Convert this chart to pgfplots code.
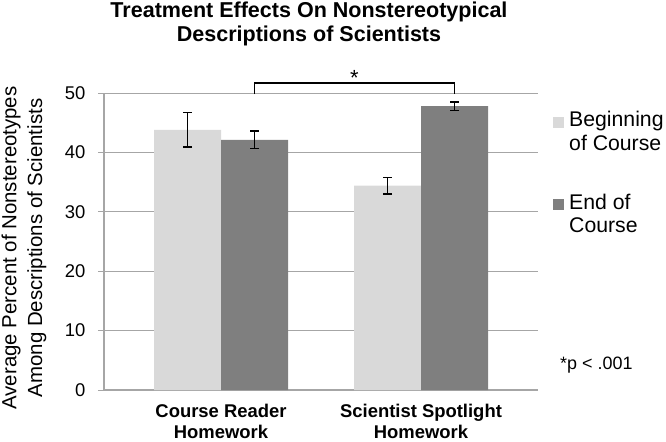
\documentclass[border=0pt]{standalone}
\usepackage{pgfplots}
\pgfplotsset{compat=1.18}
\usepackage{fontspec}
\setmainfont{Liberation Sans}
\definecolor{lightbar}{HTML}{D9D9D9}
\definecolor{darkbar}{HTML}{7F7F7F}
\definecolor{gridgray}{HTML}{A6A6A6}
\pgfplotsset{sqlegend/.style={legend image code/.code={\fill[##1] (0bp,4bp) rectangle (11bp,15bp);}}}
\begin{document}
\begin{tikzpicture}
\path[use as bounding box] (0bp,0bp) rectangle (666bp,-442bp);
\node[align=center, anchor=north, inner sep=0pt, font=\fontsize{21.6}{24}\selectfont\bfseries] at (309bp,-2bp) {Treatment Effects On Nonstereotypical\\Descriptions of Scientists};
\node[rotate=90, align=center, inner sep=0pt, font=\fontsize{20.5}{26}\selectfont] at (24bp,-248bp) {Average Percent of Nonstereotypes\\Among Descriptions of Scientists};
\node[anchor=base west, inner sep=0pt, font=\fontsize{18}{20}\selectfont] at (560bp,-369bp) {*p < .001};
\begin{axis}[
  at={(104bp,-390bp)}, anchor=south west,
  width=434bp, height=297bp, scale only axis,
  xmin=-0.585, xmax=1.585, ymin=0, ymax=50,
  clip=false,
  axis x line*=bottom, axis y line*=left,
  axis line style={gridgray, line width=1.3bp},
  ytick={0,10,20,30,40,50},
  ymajorgrids, grid style={gridgray, line width=1bp},
  tick align=outside, major tick length=6bp,
  ytick style={gridgray, line width=1bp},
  xtick={0,1}, xtick style={draw=none},
  xticklabels={{Course Reader\\Homework},{Scientist Spotlight\\Homework}},
  xticklabel style={align=center, font=\bfseries\fontsize{18.5}{21}\selectfont, yshift=-5bp},
  yticklabel style={font=\fontsize{18.5}{20}\selectfont, xshift=-9bp},
  /pgf/number format/assume math mode=true,
  legend style={draw=none, fill=none, inner sep=0pt, at={(rel axis cs:1.0346,0.938)}, anchor=north west,
    row sep=42bp, column sep=5bp, nodes={inner sep=0pt, align=left, font=\fontsize{21.3}{23.5}\selectfont}},
  legend cell align=left,
]
\addplot[ybar, bar width=0.335, bar shift=0, fill=lightbar, draw=none, sqlegend,
  error bars/.cd, y dir=both, y explicit,
  error bar style={black, line width=1.2bp},
  error mark options={black, line width=1.2bp, mark size=4.5bp, rotate=90}]
  coordinates {(-0.1675,43.8) +- (0,2.9) (0.8325,34.4) +- (0,1.4)};
\addlegendentry{Beginning\\of Course}
\addplot[ybar, bar width=0.335, bar shift=0, fill=darkbar, draw=none, sqlegend,
  error bars/.cd, y dir=both, y explicit,
  error bar style={black, line width=1.2bp},
  error mark options={black, line width=1.2bp, mark size=4.5bp, rotate=90}]
  coordinates {(0.1675,42.1) +- (0,1.5) (1.1675,47.8) +- (0,0.7)};
\addlegendentry{End of\\Course}
\draw[black, line width=1.2bp] (axis cs:0.1675,49.8) -- (axis cs:0.1675,51.7) -- (axis cs:1.1675,51.7) -- (axis cs:1.1675,49.8);
\node[anchor=base, inner sep=0pt, font=\fontsize{22}{22}\selectfont] at (axis cs:0.6675,51.3) {*};
\end{axis}
\end{tikzpicture}
\end{document}
